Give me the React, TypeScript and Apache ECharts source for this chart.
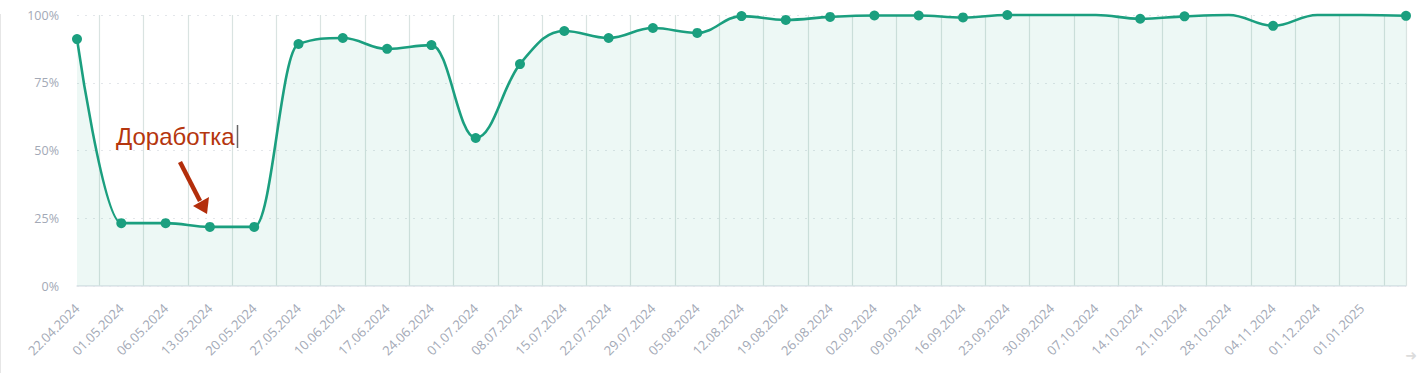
import React, { useEffect, useRef } from "react";
import * as echarts from "echarts";

const categories: string[] = [
  "22.04.2024", "01.05.2024", "06.05.2024", "13.05.2024", "20.05.2024", "27.05.2024",
  "10.06.2024", "17.06.2024", "24.06.2024", "01.07.2024", "08.07.2024", "15.07.2024",
  "22.07.2024", "29.07.2024", "05.08.2024", "12.08.2024", "19.08.2024", "26.08.2024",
  "02.09.2024", "09.09.2024", "16.09.2024", "23.09.2024", "30.09.2024", "07.10.2024",
  "14.10.2024", "21.10.2024", "28.10.2024", "04.11.2024", "01.12.2024", "01.01.2025",
  "",
];

const values: number[] = [
  91.1, 23.2, 23.2, 21.8, 21.8, 89.3,
  91.5, 87.5, 88.9, 54.6, 81.9, 94.1,
  91.5, 95.2, 93.4, 99.6, 98.2, 99.3,
  99.8, 99.8, 99.1, 100, 100, 100,
  98.6, 99.5, 100, 96.0, 100, 100,
  99.7,
];

// points drawn without a marker
const noDot: string[] = ["30.09.2024", "07.10.2024", "28.10.2024", "01.12.2024", "01.01.2025"];

const yTicks: number[] = [0, 25, 50, 75, 100];

const annotationText = "Доработка";

const LINE = "#1b9f7f";
const AXIS_TEXT = "#a3a9b6";

// spline through pixel points, with control points kept between neighbours
function splinePath(pts: number[][]): string {
  const smoothing = 1.5;
  const denom = smoothing + 1;
  let d = `M${pts[0][0]},${pts[0][1]}`;
  let prevRight: number[] = pts[0];
  for (let i = 1; i < pts.length; i++) {
    const [x, y] = pts[i];
    let left: number[] = [x, y];
    let right: number[] = [x, y];
    if (i < pts.length - 1) {
      const [lx, ly] = pts[i - 1];
      const [nx, ny] = pts[i + 1];
      let lcx = (smoothing * x + lx) / denom;
      let lcy = (smoothing * y + ly) / denom;
      const rcx = (smoothing * x + nx) / denom;
      let rcy = (smoothing * y + ny) / denom;
      let correction = 0;
      if (rcx !== lcx) {
        correction = ((rcy - lcy) * (rcx - x)) / (rcx - lcx) + y - rcy;
      }
      lcy += correction;
      rcy += correction;
      if (lcy > ly && lcy > y) {
        lcy = Math.max(ly, y);
        rcy = 2 * y - lcy;
      } else if (lcy < ly && lcy < y) {
        lcy = Math.min(ly, y);
        rcy = 2 * y - lcy;
      }
      if (rcy > ny && rcy > y) {
        rcy = Math.max(ny, y);
        lcy = 2 * y - rcy;
      } else if (rcy < ny && rcy < y) {
        rcy = Math.min(ny, y);
        lcy = 2 * y - rcy;
      }
      left = [lcx, lcy];
      right = [rcx, rcy];
    }
    d += ` C${prevRight[0]},${prevRight[1]} ${left[0]},${left[1]} ${x},${y}`;
    prevRight = right;
  }
  return d;
}

export default function App() {
  const ref = useRef<HTMLDivElement>(null);

  useEffect(() => {
    document.body.style.margin = "0";
    if (!ref.current) return;
    const chart = echarts.init(ref.current, undefined, { renderer: "svg" });

    const lineData = values.map((v, i) => [i, v]);
    const dotData = values
      .map((v, i) => [i, v])
      .filter((_, i) => !noDot.includes(categories[i]));
    const gapCats = Array.from({ length: (categories.length - 1) * 2 }, (_, i) => String(i));

    chart.setOption({
      animation: false,
      backgroundColor: "#ffffff",
      grid: { left: 77, right: 13, top: 15, bottom: 87, containLabel: false },
      xAxis: [
        {
          type: "category",
          data: categories,
          boundaryGap: false,
          axisLine: { show: true, lineStyle: { color: "#e1e5ea", width: 1.5 } },
          axisTick: { show: false },
          splitLine: { show: false },
          axisLabel: {
            interval: 0,
            rotate: 45,
            margin: 20,
            color: AXIS_TEXT,
            fontSize: 13,
            fontFamily: "Open Sans",
          },
        },
        {
          type: "category",
          data: gapCats,
          boundaryGap: true,
          position: "bottom",
          axisLine: { show: false },
          axisTick: { show: false },
          axisLabel: { show: false },
          splitLine: {
            show: true,
            interval: (index: number) => index % 2 === 1,
            lineStyle: { color: "#d9e3e1", width: 1.2 },
          },
        },
      ],
      yAxis: {
        type: "value",
        min: yTicks[0],
        max: yTicks[yTicks.length - 1],
        interval: 25,
        axisLine: { show: false },
        axisTick: { show: false },
        axisLabel: {
          formatter: "{value}%",
          color: AXIS_TEXT,
          fontSize: 12.5,
          fontFamily: "Open Sans",
          margin: 18,
        },
        splitLine: {
          show: true,
          lineStyle: { color: "#e3e6ea", type: [2, 6], width: 1 },
        },
      },
      series: [
        {
          type: "custom",
          xAxisIndex: 0,
          yAxisIndex: 0,
          data: lineData,
          encode: { x: 0, y: 1 },
          z: 3,
          renderItem: (params: any, api: any) => {
            if (params.dataIndex !== 0) return null;
            const pts = values.map((v, i) => api.coord([i, v]));
            const lineD = splinePath(pts);
            const base = api.coord([0, yTicks[0]])[1];
            const last = pts[pts.length - 1];
            const areaD = `${lineD} L${last[0]},${base} L${pts[0][0]},${base} Z`;
            return {
              type: "group",
              children: [
                {
                  type: "path",
                  shape: { pathData: areaD },
                  style: { fill: "rgba(30,160,126,0.08)", stroke: null },
                },
                {
                  type: "path",
                  shape: { pathData: lineD },
                  style: { fill: null, stroke: LINE, lineWidth: 2.6 },
                },
              ],
            };
          },
        },
        {
          type: "scatter",
          xAxisIndex: 0,
          yAxisIndex: 0,
          data: dotData,
          symbol: "circle",
          symbolSize: 10,
          itemStyle: { color: LINE, opacity: 1 },
          z: 4,
        },
      ],
      graphic: [
        {
          type: "line",
          shape: { x1: 0.5, y1: 14, x2: 0.5, y2: 373 },
          style: { stroke: "#e6e6e6", lineWidth: 1 },
          z: 10,
        },
        {
          type: "text",
          x: 116,
          y: 136,
          style: {
            text: annotationText,
            fill: "#b5360e",
            font: "24px 'Liberation Sans', Arial, sans-serif",
            verticalAlign: "middle",
            align: "left",
          },
          z: 20,
        },
        {
          type: "line",
          shape: { x1: 237.5, y1: 125, x2: 237.5, y2: 148 },
          style: { stroke: "#666666", lineWidth: 1.5 },
          z: 20,
        },
        {
          type: "line",
          shape: { x1: 180, y1: 162, x2: 200, y2: 201 },
          style: { stroke: "#b32e0b", lineWidth: 4.5, lineCap: "butt" },
          z: 20,
        },
        {
          type: "polygon",
          shape: { points: [[193, 206], [209, 197], [207, 214]] },
          style: { fill: "#b32e0b" },
          z: 20,
        },
        {
          type: "text",
          x: 1411,
          y: 355,
          style: {
            text: "➜",
            fill: "#dcdcdc",
            font: "14px 'DejaVu Sans', sans-serif",
            align: "center",
            verticalAlign: "middle",
          },
          z: 20,
        },
      ],
    });

    return () => chart.dispose();
  }, []);

  return <div ref={ref} style={{ width: 1419, height: 373 }} />;
}
